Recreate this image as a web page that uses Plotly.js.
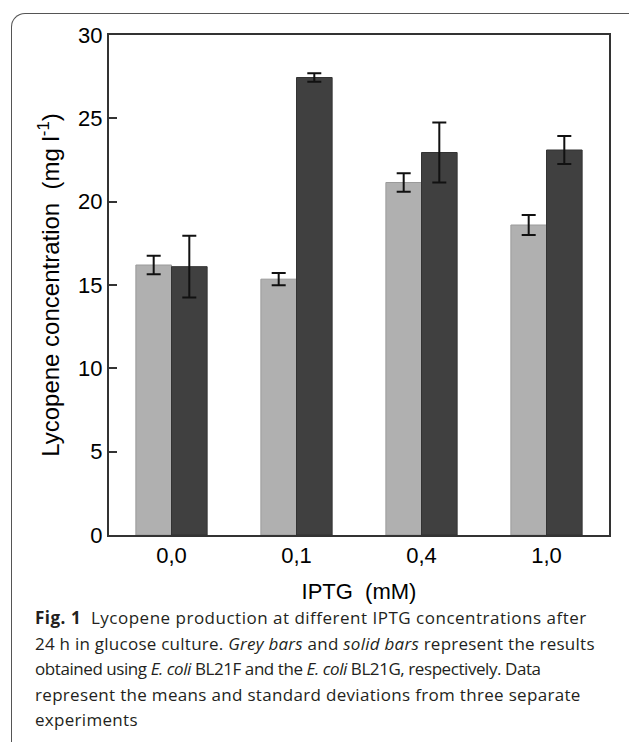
<!DOCTYPE html>
<html>
<head>
<meta charset="utf-8">
<script src="https://cdn.plot.ly/plotly-3.0.1.min.js"></script>
<style>
  html, body { margin: 0; padding: 0; background: #fff; }
  #wrap { position: relative; width: 629px; height: 742px; overflow: hidden; }
  #frame { position: absolute; left: 11px; top: 13px; width: 700px; height: 800px;
           border-left: 1.5px solid #555; border-top: 1.5px solid #555;
           border-top-left-radius: 14px; box-sizing: border-box; }
  #chart { position: absolute; left: 0; top: 0; width: 629px; height: 742px; }
  #caption { position: absolute; left: 35px; top: 605px; font-family: "Open Sans", sans-serif;
             font-size: 17px; line-height: 25.5px; color: #231f20; white-space: nowrap; }
</style>
</head>
<body>
<div id="wrap">
  <div id="frame"></div>
  <div id="chart"></div>
  <div id="caption">
    <div style="letter-spacing:0.5px"><b>Fig. 1</b>&nbsp; Lycopene production at different IPTG concentrations after</div>
    <div style="letter-spacing:0.25px">24 h in glucose culture. <i>Grey bars</i> and <i>solid bars</i> represent the results</div>
    <div style="letter-spacing:-0.43px">obtained using <i>E. coli</i> BL21F and the <i>E. coli</i> BL21G, respectively. Data</div>
    <div style="letter-spacing:0.32px">represent the means and standard deviations from three separate</div>
    <div style="letter-spacing:0.3px">experiments</div>
  </div>
</div>
<script>
const categories = ["0,0", "0,1", "0,4", "1,0"];
const bl21fValues = [16.2, 15.35, 21.15, 18.6];
const bl21fErrors = [0.55, 0.37, 0.55, 0.6];
const bl21gValues = [16.1, 27.45, 22.95, 23.1];
const bl21gErrors = [1.85, 0.25, 1.8, 0.84];
const yTicks = [0, 5, 10, 15, 20, 25, 30];

const font = "Liberation Sans, Arial, sans-serif";

const traces = [
  {
    type: "bar", name: "E. coli BL21F", x: categories, y: bl21fValues,
    marker: { color: "#b0b0b0", line: { color: "#9a9a9a", width: 1 } },
    error_y: { type: "data", array: bl21fErrors, visible: true, color: "#111", thickness: 2, width: 7 }
  },
  {
    type: "bar", name: "E. coli BL21G", x: categories, y: bl21gValues,
    marker: { color: "#404040", line: { color: "#333", width: 1 } },
    error_y: { type: "data", array: bl21gErrors, visible: true, color: "#111", thickness: 2, width: 7 }
  }
];

const layout = {
  width: 629, height: 742,
  margin: { l: 109, r: 20, t: 35, b: 207 },
  paper_bgcolor: "rgba(0,0,0,0)",
  plot_bgcolor: "#fff",
  showlegend: false,
  barmode: "group",
  bargap: 0.43,
  bargroupgap: 0,
  font: { family: font, color: "#000" },
  xaxis: {
    type: "category",
    range: [-0.5, 3.5],
    showline: true, linecolor: "#333", linewidth: 2, mirror: true,
    ticks: "", showgrid: false, zeroline: false,
    tickfont: { family: font, size: 22, color: "#000" },
    title: { text: "IPTG&nbsp; (mM)", font: { family: font, size: 22, color: "#000" }, standoff: 16 }
  },
  yaxis: {
    range: [0, 30],
    tickvals: yTicks,
    ticktext: yTicks.map(String),
    showline: true, linecolor: "#333", linewidth: 2, mirror: true,
    ticks: "inside", ticklen: 8, tickwidth: 2, tickcolor: "#333",
    showgrid: false, zeroline: false,
    tickfont: { family: font, size: 22, color: "#000" },
    title: { text: "Lycopene concentration&nbsp; (mg l<sup>-1</sup>)", font: { family: font, size: 24, color: "#000" }, standoff: 12 }
  }
};

Plotly.newPlot("chart", traces, layout, { displayModeBar: false, staticPlot: true });
</script>
</body>
</html>
